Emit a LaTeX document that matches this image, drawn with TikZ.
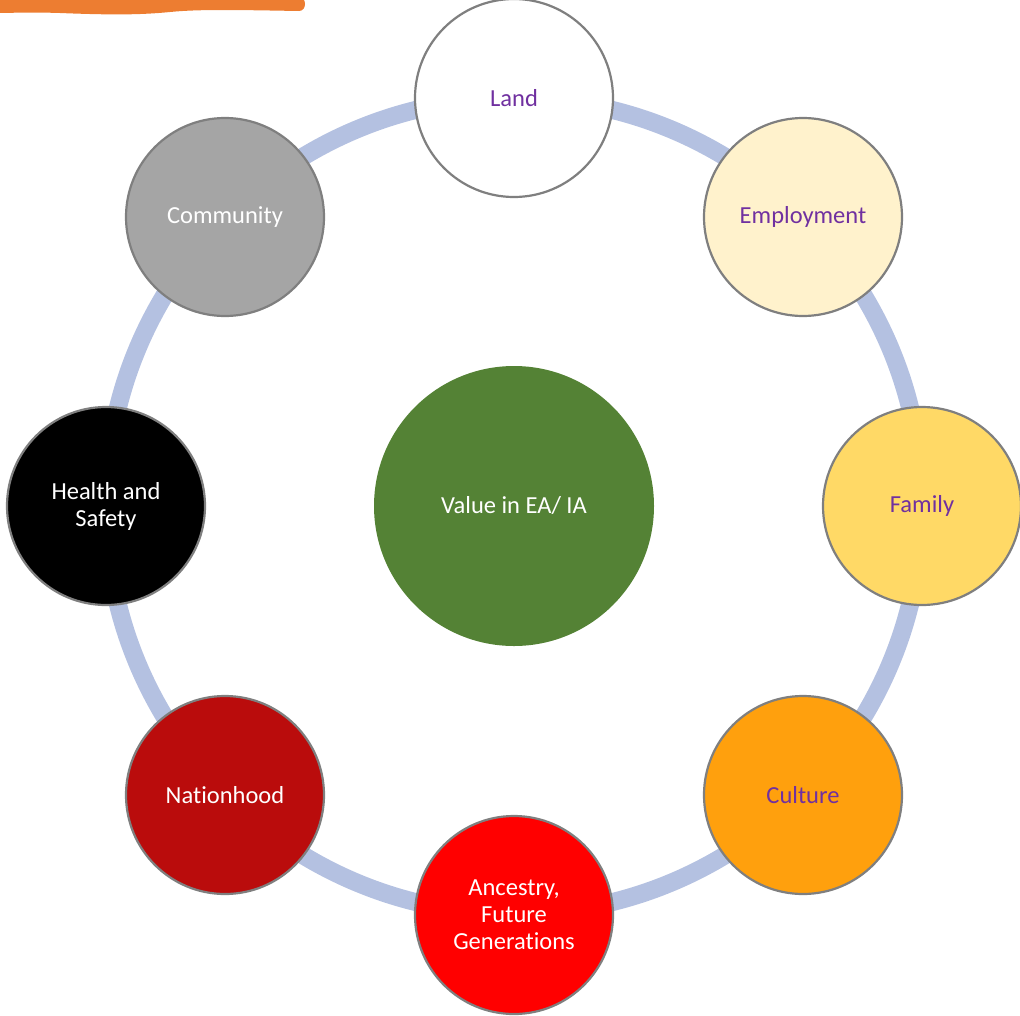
\documentclass[tikz,border=0pt]{standalone}
\usepackage{fontspec}
\setmainfont[Ligatures=NoCommon]{Carlito}
\begin{document}
\begin{tikzpicture}[x=1pt,y=-1pt,
  item/.style={circle,draw=itemborder,line width=2.2pt,minimum size=198pt,inner sep=0pt,
    align=center,font=\fontsize{24.5}{27}\selectfont},
  dark/.style={item,text=white},
  light/.style={item,text=txtpurple}]
\definecolor{itemborder}{HTML}{7F7F7F}
\definecolor{txtpurple}{HTML}{7030A0}
\definecolor{ringblue}{HTML}{B4C1E1}
\definecolor{cEmp}{HTML}{FFF2CC}
\definecolor{cFam}{HTML}{FFD966}
\definecolor{cCul}{HTML}{FFA00D}
\definecolor{cAnc}{HTML}{FF0000}
\definecolor{cNat}{HTML}{BA0C0C}
\definecolor{cCom}{HTML}{A5A5A5}
\definecolor{cCen}{HTML}{548235}
\definecolor{cOra}{HTML}{ED7D31}
\useasboundingbox (0,0) rectangle (1020,1015);
% ring
\draw[ringblue,line width=18pt] (514,506) circle (408);
% orange stroke
\fill[cOra] (-5,-5) -- (299,-3) .. controls (307,-3) and (307,11) .. (299,11)
  .. controls (240,10) and (200,9) .. (170,12) .. controls (140,15) and (110,15) .. (60,13)
  .. controls (30,12) and (10,13) .. (-5,13) -- cycle;
% center
\node[circle,fill=cCen,minimum size=280pt,inner sep=0pt,text=white,
  font=\fontsize{24.5}{27}\selectfont] (center) at (514,506) {Value in EA/ IA};
% items
\node[light,fill=white] (land) at (514,98) {Land};
\node[light,fill=cEmp] (emp) at (803,217) {Employment};
\node[light,fill=cFam] (fam) at (922,506) {Family};
\node[light,fill=cCul] (cul) at (803,795) {Culture};
\node[dark,fill=cAnc] (anc) at (514,915) {Ancestry,\\Future\\Generations};
\node[dark,fill=cNat] (nat) at (225,795) {Nationhood};
\node[dark,fill=black] (hs) at (106,506) {Health and\\Safety};
\node[dark,fill=cCom] (com) at (225,217) {Community};
\end{tikzpicture}
\end{document}
